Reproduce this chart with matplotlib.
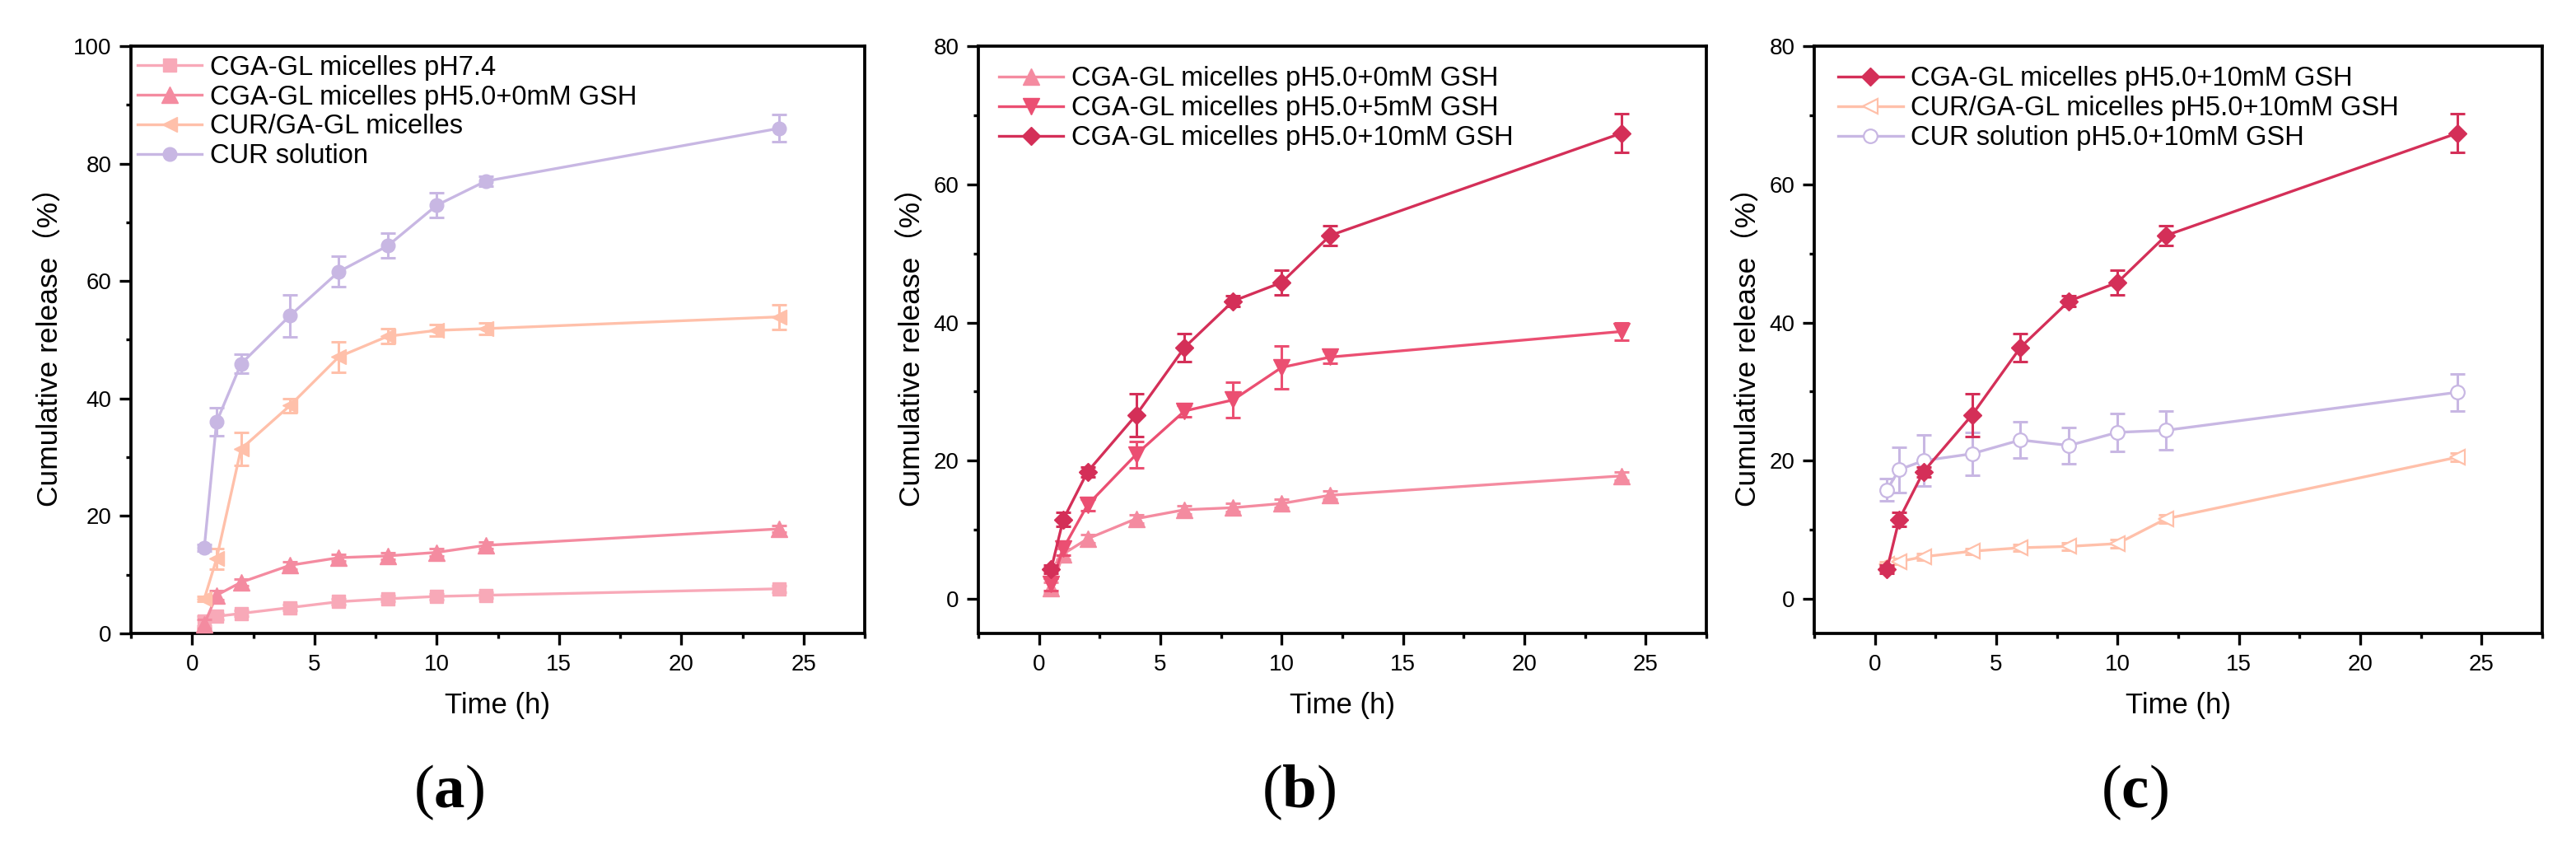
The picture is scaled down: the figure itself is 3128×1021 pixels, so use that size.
import matplotlib
matplotlib.use("Agg")
import matplotlib.pyplot as plt
from matplotlib.ticker import MultipleLocator

plt.rcParams['font.family'] = ['Liberation Sans', 'Noto Sans CJK SC', 'DejaVu Sans']
plt.rcParams['mathtext.fontset'] = 'custom'
plt.rcParams['mathtext.rm'] = 'Liberation Serif'
plt.rcParams['mathtext.bf'] = 'Liberation Serif:bold'

# ---------------- data ----------------
time_h = [0.5, 1, 2, 4, 6, 8, 10, 12, 24]

# panel (a)
cga_ph74 = [2.1, 2.9, 3.4, 4.4, 5.4, 5.9, 6.3, 6.5, 7.6]
cga_ph74_err = [0.8, 0.5, 0.5, 0.5, 0.5, 0.5, 0.5, 0.5, 0.6]
cga_ph5_0mM = [1.6, 6.5, 8.7, 11.6, 12.9, 13.2, 13.8, 15.0, 17.8]
cga_ph5_0mM_err = [0.8, 0.8, 0.6, 0.6, 0.6, 0.6, 0.6, 0.6, 0.6]
cur_ga = [5.9, 12.7, 31.4, 38.8, 47.1, 50.6, 51.6, 51.9, 53.9]
cur_ga_err = [0.4, 1.8, 2.8, 1.2, 2.6, 1.3, 1.0, 1.0, 2.1]
cur_sol = [14.6, 36.0, 45.9, 54.1, 61.6, 66.0, 72.9, 77.0, 86.0]
cur_sol_err = [0.6, 2.4, 1.6, 3.6, 2.6, 2.1, 2.1, 0.9, 2.3]

# panel (b)
cga_ph5_5mM = [2.1, 7.3, 13.6, 20.9, 27.2, 28.8, 33.5, 35.0, 38.7]
cga_ph5_5mM_err = [0.9, 1.0, 0.8, 1.9, 0.8, 2.6, 3.1, 0.9, 1.3]
cga_ph5_10mM = [4.3, 11.5, 18.4, 26.6, 36.4, 43.1, 45.8, 52.6, 67.4]
cga_ph5_10mM_err = [0.6, 1.0, 0.7, 3.1, 2.0, 0.8, 1.8, 1.4, 2.8]

# panel (c)
cur_ga_10mM = [5.0, 5.4, 6.1, 6.9, 7.4, 7.6, 8.0, 11.6, 20.5]
cur_ga_10mM_err = [0.4, 0.4, 0.5, 0.4, 0.5, 0.5, 0.6, 0.6, 0.6]
cur_sol_10mM = [15.8, 18.7, 20.0, 21.0, 23.0, 22.2, 24.1, 24.4, 29.9]
cur_sol_10mM_err = [1.6, 3.3, 3.7, 3.1, 2.6, 2.6, 2.7, 2.8, 2.7]

labels_a = ["CGA-GL micelles pH7.4", "CGA-GL micelles pH5.0+0mM GSH",
            "CUR/GA-GL micelles", "CUR solution"]
labels_b = ["CGA-GL micelles pH5.0+0mM GSH", "CGA-GL micelles pH5.0+5mM GSH",
            "CGA-GL micelles pH5.0+10mM GSH"]
labels_c = ["CGA-GL micelles pH5.0+10mM GSH", "CUR/GA-GL micelles pH5.0+10mM GSH",
            "CUR solution pH5.0+10mM GSH"]
panel_tags = ["a", "b", "c"]
x_label = "Time (h)"
y_label = "Cumulative release\uff08%\uff09"

# ---------------- styles ----------------
C_PINK = '#F8A9B8'
C_PINK0 = '#F48BA0'
C_PEACH = '#FFC0AA'
C_LAV = '#C8B7E3'
C_ROSE = '#EB4F72'
C_CRIM = '#D42F58'

W, H = 3128, 1021
fig = plt.figure(figsize=(W / 100, H / 100), dpi=100)

ax_px = [(159, 1050), (1188, 2072), (2203, 3087)]
tag_cx = [545, 1577, 2592]
top_px, bot_px = 56, 769
axes = []
for l, r in ax_px:
    axes.append(fig.add_axes([l / W, (H - bot_px) / H, (r - l) / W, (bot_px - top_px) / H]))

LW = 2.4
CAP = 6.5


def series(ax, y, err, color, marker, ms, label, open_marker=False, z=3):
    ax.errorbar(time_h, y, yerr=err, fmt='none', ecolor=color, elinewidth=2.2,
                capsize=CAP, capthick=2.2, zorder=z)
    ax.plot(time_h, y, color=color, lw=LW, marker=marker, ms=ms,
            markerfacecolor='white' if open_marker else color,
            markeredgecolor=color, markeredgewidth=1.6 if open_marker else 1.0,
            label=label, zorder=z + 0.5)


axa, axb, axc = axes
series(axa, cga_ph74, cga_ph74_err, C_PINK, 's', 12, labels_a[0], z=3)
series(axa, cga_ph5_0mM, cga_ph5_0mM_err, C_PINK0, '^', 14, labels_a[1], z=4)
series(axa, cur_ga, cur_ga_err, C_PEACH, '<', 13.5, labels_a[2], z=5)
series(axa, cur_sol, cur_sol_err, C_LAV, 'o', 12, labels_a[3], z=6)

series(axb, cga_ph5_0mM, cga_ph5_0mM_err, C_PINK0, '^', 14, labels_b[0], z=3)
series(axb, cga_ph5_5mM, cga_ph5_5mM_err, C_ROSE, 'v', 14, labels_b[1], z=4)
series(axb, cga_ph5_10mM, cga_ph5_10mM_err, C_CRIM, 'D', 11.5, labels_b[2], z=5)

series(axc, cga_ph5_10mM, cga_ph5_10mM_err, C_CRIM, 'D', 11.5, labels_c[0], z=5)
series(axc, cur_ga_10mM, cur_ga_10mM_err, C_PEACH, '<', 13.5, labels_c[1], open_marker=True, z=3)
series(axc, cur_sol_10mM, cur_sol_10mM_err, C_LAV, 'o', 12, labels_c[2], open_marker=True, z=4)

axa.set_ylim(0, 100)
axb.set_ylim(-5, 80)
axc.set_ylim(-5, 80)

legend_anchor = [(0.009, 0.985), (0.028, 0.966), (0.033, 0.966)]
ylab_x = [-0.111, -0.0916, -0.0916]

for i, ax in enumerate(axes):
    ax.set_xlim(-2.5, 27.5)
    ax.xaxis.set_major_locator(MultipleLocator(5))
    ax.xaxis.set_minor_locator(MultipleLocator(2.5))
    ax.yaxis.set_major_locator(MultipleLocator(20))
    ax.yaxis.set_minor_locator(MultipleLocator(10))
    for s in ax.spines.values():
        s.set_linewidth(2.7)
    ax.tick_params(which='both', direction='out', top=False, right=False, width=2.4)
    ax.tick_params(which='major', length=10, labelsize=20)
    ax.tick_params(which='minor', length=4.5)
    ax.tick_params(axis='x', which='major', pad=8)
    ax.tick_params(axis='y', which='major', pad=7)
    ax.set_xlabel(x_label, fontsize=25, va='center')
    ax.xaxis.set_label_coords(0.5, -0.123)
    ax.set_ylabel(y_label, fontsize=25.5, va='center')
    ax.yaxis.set_label_coords(ylab_x[i], 0.5)
    ax.legend(loc='upper left', bbox_to_anchor=legend_anchor[i], frameon=False,
              fontsize=23.5, borderpad=0, borderaxespad=0, handlelength=2.4,
              handletextpad=0.3, labelspacing=0.15, numpoints=1)
    fig.text(tag_cx[i] / W, (H - 962) / H, "($\\mathbf{%s}$)" % panel_tags[i],
             family='Liberation Serif', fontsize=54, ha='center', va='center')

fig.savefig("out.png", dpi=100)
